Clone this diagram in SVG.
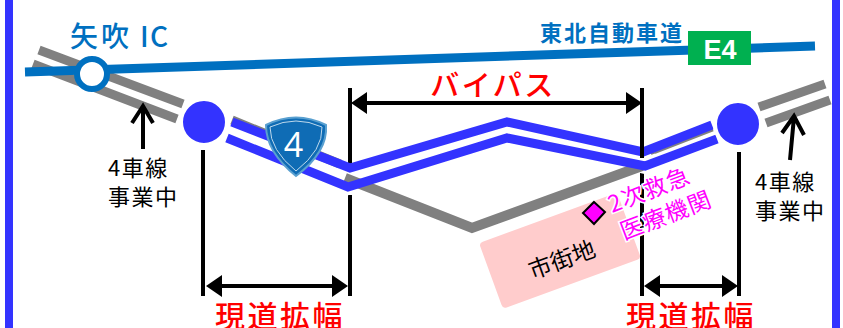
<svg xmlns="http://www.w3.org/2000/svg" width="843" height="328" viewBox="0 0 843 328">
<style>
text{font-family:"Noto Sans CJK JP","Noto Sans",sans-serif}
.frame{fill:#3333ff}
.g{fill:none;stroke:#808080;stroke-width:9}
.b{fill:none;stroke:#3333ff;stroke-width:9;stroke-linejoin:miter}
.cas{fill:none;stroke:#fff;stroke-width:16}
.k{stroke:#000;stroke-width:4;fill:none}
.s{stroke:#000;stroke-width:4;fill:none}
.kh{fill:#000}
.node{fill:#3333ff;stroke:#fff;stroke-width:4}
.red{fill:#ff0000;font-size:30px;letter-spacing:2.500px;font-weight:500}
.note{fill:#000;font-size:22px;letter-spacing:1.500px}
.mag{fill:#ff00ff;font-size:23px;letter-spacing:1px;stroke:#fff;stroke-width:3;paint-order:stroke}
.hw{fill:#0070c0;font-weight:500;stroke:#fff;stroke-width:2;paint-order:stroke}
</style>
<rect class="frame" x="5" y="0" width="8" height="328"/>
<rect class="frame" x="832" y="0" width="8" height="328"/>
<g id="connectors">
<path class="g" d="M39 50L183 104M33 64L177 119M759 107L825 84M766 123L830 100"/>
<path class="g" d="M232 120L340 164M650 151L712 127"/>
<path d="M25 72L815 46" fill="none" stroke="#0070c0" stroke-width="9"/>
<path class="k" d="M350 88V165M350 195V296M203 150V296M739 152V296M642 172V296"/>
<path class="cas" d="M340 183L348 187L365 182M632 163L645 166L658 161"/>
<path class="g" style="stroke-width:10" d="M345 178L472 228L642 166"/>
<path class="b" d="M232 122L350 168L507 122L643 152L712 125"/>
<path class="b" d="M227 138L348 187L507 138L645 166L717 139"/>
<path class="k" d="M642 88V158"/>
<path class="s" d="M143 149V107M132 123L143 106L153 123"/>
<path class="s" d="M790 160L794 117M782 133L794 116L804 135"/>
<path class="s" d="M220 286H334M660 286H722M366 103H626"/>
<path class="kh" d="M206 286L222 275V297ZM348 286L332 275V297ZM644 286L660 275V297ZM738 286L722 275V297ZM351 103L367 92V114ZM642 103L626 92V114Z"/>
</g>
<g id="city">
<rect x="479" y="243" width="147" height="70" rx="4" fill="#ffcccc" transform="rotate(-20 479 243)"/>
<text x="562" y="268" font-size="23" text-anchor="middle" transform="rotate(-20 562 260)">市街地</text>
</g>
<g id="hospital">
<polygon points="594,202 605,212 594,224 583,213" fill="#ff00ff" stroke="#000" stroke-width="2"/>
<text class="mag" x="612" y="213" transform="rotate(-21 612 213)">2次救急</text>
<text class="mag" x="624" y="240" transform="rotate(-21 624 240)">医療機関</text>
</g>
<g id="ic"><circle cx="92" cy="74" r="15" fill="#fff" stroke="#0070c0" stroke-width="6"/></g>
<g id="node-west"><circle class="node" cx="204" cy="122" r="23"/></g>
<g id="node-east"><circle class="node" cx="738" cy="124" r="23"/></g>
<g id="route4">
<path d="M266 125Q296 110 326 125Q328 152 296 176Q266 152 266 125Z" fill="#0f6cb5" stroke="#5aa0d0" stroke-width="2"/>
<path d="M270 127Q296 115 322 127Q323 150 296 171Q270 150 270 127Z" fill="none" stroke="#bcd8ec" stroke-width="1"/>
<text x="293.500" y="157" font-size="34" fill="#fff" text-anchor="middle" style="font-family:'Open Sans',sans-serif;font-weight:400">4</text>
</g>
<g id="labels">
<text class="hw" x="70 101 140 150" y="47" font-size="28">矢吹IC</text>
<text class="hw" style="font-weight:700" x="540" y="41" font-size="22" letter-spacing="2">東北自動車道</text>
<text class="red" x="493" y="96" text-anchor="middle" style="font-size:29px">バイパス</text>
<text class="red" x="280" y="327" text-anchor="middle">現道拡幅</text>
<text class="red" x="691" y="327" text-anchor="middle">現道拡幅</text>
<text class="note" x="108" y="176">4車線</text>
<text class="note" x="108" y="205">事業中</text>
<text class="note" x="755" y="190">4車線</text>
<text class="note" x="755" y="219">事業中</text>
</g>
<g id="e4">
<rect x="688" y="31" width="63" height="34" fill="#00b050"/>
<text x="720" y="59" font-size="27" font-weight="700" fill="#fff" text-anchor="middle" style="font-family:'Liberation Sans',sans-serif">E4</text>
</g>
</svg>
